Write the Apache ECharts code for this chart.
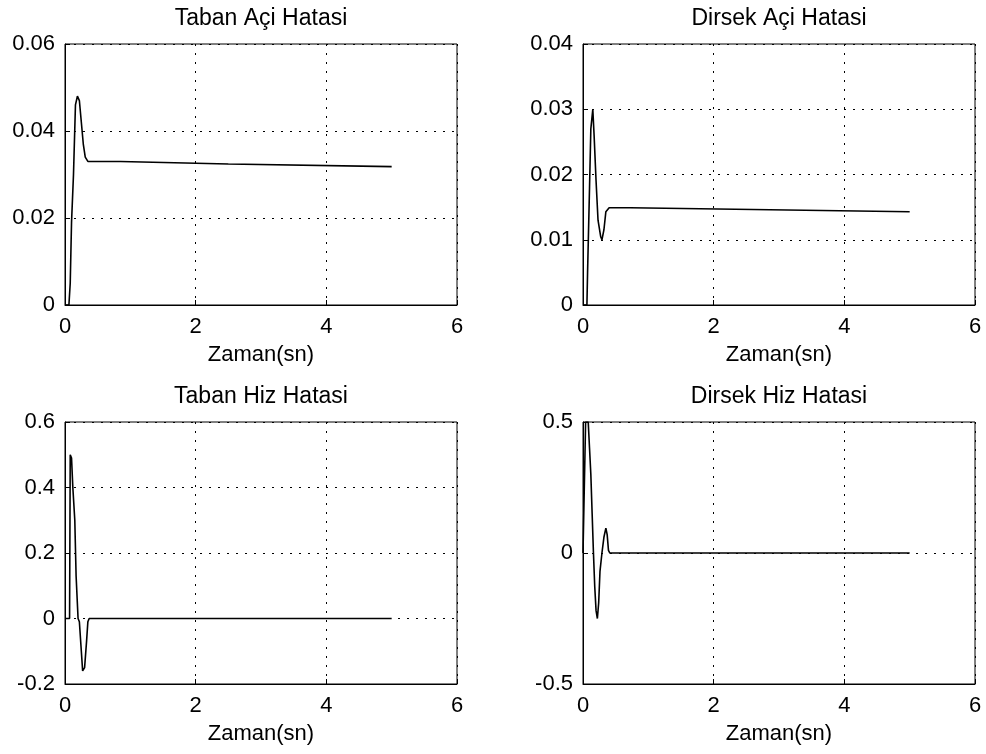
<!DOCTYPE html>
<html>
<head>
<meta charset="utf-8">
<script src="https://cdn.jsdelivr.net/npm/echarts@6/dist/echarts.min.js"></script>
<style>html,body{margin:0;padding:0;background:#fff}#c{width:986px;height:754px}</style>
</head>
<body>
<div id="c"></div>
<script>
// ---- data ----
const titles = ['Taban Açi Hatasi', 'Dirsek Açi Hatasi', 'Taban Hiz Hatasi', 'Dirsek Hiz Hatasi'];
const xName = 'Zaman(sn)';
const xTicks = ['0', '2', '4', '6'];

const t1 = [0, 0.06, 0.08, 0.1, 0.13, 0.16, 0.19, 0.22, 0.25, 0.28, 0.31, 0.35, 0.85, 0.87, 2.5, 5.0];
const v1 = [0, 0, 0.005, 0.019, 0.030, 0.046, 0.048, 0.047, 0.042, 0.037, 0.034, 0.033, 0.033, 0.0328, 0.0324, 0.0318];

const t2 = [0, 0.06, 0.07, 0.1, 0.12, 0.15, 0.17, 0.2, 0.23, 0.27, 0.29, 0.32, 0.35, 0.4, 0.72, 0.73, 5.0];
const v2 = [0, 0, 0.005, 0.018, 0.027, 0.030, 0.026, 0.019, 0.013, 0.0105, 0.0100, 0.0115, 0.0143, 0.0149, 0.0149, 0.0146, 0.0143];

const t3 = [0, 0.07, 0.08, 0.1, 0.12, 0.15, 0.17, 0.2, 0.22, 0.25, 0.27, 0.3, 0.33, 0.35, 0.37, 0.4, 0.42, 5.0];
const v3 = [0, 0, 0.5, 0.49, 0.40, 0.30, 0.13, 0.0, -0.01, -0.10, -0.16, -0.15, -0.07, -0.01, 0.0, 0.005, 0, 0];

const t4 = [0, 0.03, 0.04, 0.08, 0.1, 0.12, 0.14, 0.16, 0.18, 0.2, 0.22, 0.24, 0.26, 0.29, 0.32, 0.35, 0.37, 0.39, 0.41, 5.0];
const v4 = [0, 0, 0.5, 0.5, 0.40, 0.30, 0.15, 0, -0.13, -0.22, -0.25, -0.19, -0.07, 0, 0.06, 0.095, 0.07, 0.01, 0, 0];

const yTicks1 = ['0', '0.02', '0.04', '0.06'];
const yTicks2 = ['0', '0.01', '0.02', '0.03', '0.04'];
const yTicks3 = ['-0.2', '0', '0.2', '0.4', '0.6'];
const yTicks4 = ['-0.5', '0', '0.5'];

// ---- chart ----
const series = [[t1, v1], [t2, v2], [t3, v3], [t4, v4]];
const yTicks = [yTicks1, yTicks2, yTicks3, yTicks4];
const yRange = [[0, 0.06, 0.02], [0, 0.04, 0.01], [-0.2, 0.6, 0.2], [-0.5, 0.5, 0.5]];

const grids = [
  {left: 65, top: 44, width: 392, height: 261},
  {left: 583, top: 44, width: 392, height: 261},
  {left: 65, top: 422, width: 392, height: 262},
  {left: 583, top: 422, width: 392, height: 262}
];
const font = 'Liberation Sans, Arial, sans-serif';
const dotted = {color: '#000', width: 1, type: [2, 7]};

const option = {
  backgroundColor: '#fff',
  animation: false,
  title: grids.map((g, i) => ({
    text: titles[i],
    left: g.left + g.width / 2,
    top: g.top - 37,
    padding: 0,
    textAlign: 'center',
    textStyle: {fontFamily: font, fontSize: 23, fontWeight: 'normal', color: '#000'}
  })),
  grid: grids.map(g => Object.assign({show: true, borderColor: '#000', borderWidth: 1, backgroundColor: '#fff'}, g)),
  xAxis: grids.map((g, i) => ({
    type: 'value', gridIndex: i, min: 0, max: 6, interval: 2,
    name: xName, nameLocation: 'middle', nameGap: 39,
    nameTextStyle: {fontFamily: font, fontSize: 22, color: '#000'},
    axisLine: {show: true, onZero: false, lineStyle: {color: '#000', width: 1}},
    axisTick: {show: true, inside: true, length: 5, lineStyle: {color: '#000'}},
    axisLabel: {fontFamily: font, fontSize: 22, color: '#000', margin: 11,
      formatter: v => xTicks[Math.round(v / 2)]},
    splitLine: {show: true, lineStyle: dotted}
  })),
  yAxis: grids.map((g, i) => ({
    type: 'value', gridIndex: i, min: yRange[i][0], max: yRange[i][1], interval: yRange[i][2],
    axisLine: {show: true, onZero: false, lineStyle: {color: '#000', width: 1}},
    axisTick: {show: true, inside: true, length: 5, lineStyle: {color: '#000'}},
    axisLabel: {fontFamily: font, fontSize: 22, color: '#000', margin: 10,
      formatter: v => yTicks[i][Math.round((v - yRange[i][0]) / yRange[i][2])]},
    splitLine: {show: true, lineStyle: dotted}
  })),
  series: series.map((s, i) => ({
    type: 'line', xAxisIndex: i, yAxisIndex: i, showSymbol: false,
    lineStyle: {color: '#000', width: 1.6},
    data: s[0].map((x, k) => [x, s[1][k]])
  }))
};
echarts.init(document.getElementById('c')).setOption(option);
</script>
</body>
</html>
